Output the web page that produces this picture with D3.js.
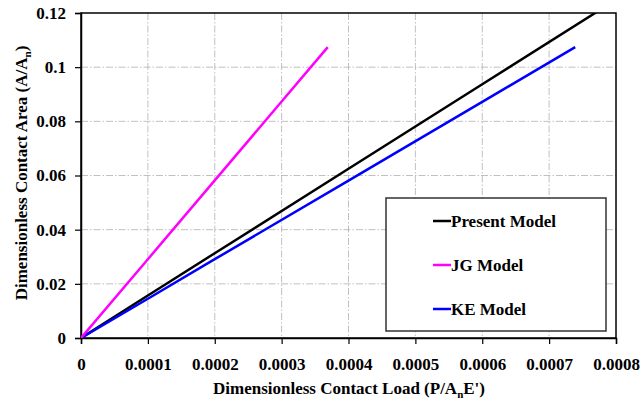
<!DOCTYPE html>
<html><head><meta charset="utf-8">
<script src="https://cdn.jsdelivr.net/npm/d3@7"></script>
<style>body{margin:0;background:#fff}svg{display:block}</style>
</head><body><svg id="c" width="640" height="402"></svg>
<script>
const xTicks=[0,0.0001,0.0002,0.0003,0.0004,0.0005,0.0006,0.0007,0.0008];
const xTickLabels=["0","0.0001","0.0002","0.0003","0.0004","0.0005","0.0006","0.0007","0.0008"];
const yTicks=[0,0.02,0.04,0.06,0.08,0.1,0.12];
const yTickLabels=["0","0.02","0.04","0.06","0.08","0.1","0.12"];
const presentX=[0,0.0001,0.0002,0.0004,0.0006,0.00077];
const presentY=[0,0.0157,0.0313,0.0625,0.0937,0.1202];
const jgX=[0,0.0001,0.0002,0.0003,0.000369];
const jgY=[0,0.0291,0.0582,0.0873,0.1074];
const keX=[0,0.0001,0.0002,0.0004,0.0006,0.000739];
const keY=[0,0.0145,0.0291,0.0581,0.0872,0.1074];
const seriesNames=["Present Model","JG Model","KE Model"];
const seriesColors=["#000000","#ff00ff","#0000ff"];
const xTitle="Dimensionless Contact Load (P/A";
const yTitle="Dimensionless Contact Area (A/A";

const FF='"Liberation Serif"';
const svg=d3.select("#c");
const L=81,R=616,T=13,B=338;
const x=d3.scaleLinear().domain([0,0.0008]).range([L,R]);
const y=d3.scaleLinear().domain([0,0.12]).range([B,T]);
svg.append("defs").append("clipPath").attr("id","cp").append("rect").attr("x",L).attr("y",T).attr("width",R-L).attr("height",B-T);

// grid
const g=svg.append("g");
g.selectAll(".gx").data(xTicks.slice(1,-1)).join("line").attr("x1",d=>x(d)).attr("x2",d=>x(d)).attr("y1",T).attr("y2",B)
 .attr("stroke","#b0b0b0").attr("stroke-width",0.8).attr("stroke-dasharray","7,2,1.5,2");
g.selectAll(".gy").data(yTicks.slice(1,-1)).join("line").attr("y1",d=>y(d)).attr("y2",d=>y(d)).attr("x1",L).attr("x2",R)
 .attr("stroke","#b0b0b0").attr("stroke-width",0.8).attr("stroke-dasharray","7,2,1.5,2");

// frame
svg.append("rect").attr("x",L).attr("y",T).attr("width",R-L).attr("height",B-T).attr("fill","none").attr("stroke","#000").attr("stroke-width",1.5);

// axes
const xa=svg.append("g").attr("transform",`translate(0,${B})`).call(d3.axisBottom(x).tickValues(xTicks).tickFormat((d,i)=>xTickLabels[i]).tickSize(6).tickPadding(14));
const ya=svg.append("g").attr("transform",`translate(${L},0)`).call(d3.axisLeft(y).tickValues(yTicks).tickFormat((d,i)=>yTickLabels[i]).tickSize(6).tickPadding(9));
[xa,ya].forEach(a=>{a.attr("font-family",null);
 a.select(".domain").attr("stroke","#000").attr("stroke-width",1.5);
 a.selectAll(".tick line").attr("stroke","#000").attr("stroke-width",1.2);
 a.selectAll("text").attr("fill","#000").style("font-family",FF).style("font-weight","bold").style("font-size","17px");});

// lines
const line=d3.line().x(d=>x(d[0])).y(d=>y(d[1]));
const data=[d3.zip(presentX,presentY),d3.zip(jgX,jgY),d3.zip(keX,keY)];
const lg=svg.append("g").attr("clip-path","url(#cp)");
[0,2,1].forEach(i=>{
 lg.append("path").datum(data[i]).attr("d",line).attr("fill","none").attr("stroke",seriesColors[i]).attr("stroke-width",2.5);
});

// legend
const leg=svg.append("g");
leg.append("rect").attr("x",386).attr("y",198).attr("width",220).attr("height",133).attr("fill","#fff").attr("stroke","#333").attr("stroke-width",1.5);
const ly=[221,265,309];
seriesNames.forEach((n,i)=>{
 leg.append("line").attr("x1",433).attr("x2",451).attr("y1",ly[i]).attr("y2",ly[i]).attr("stroke",seriesColors[i]).attr("stroke-width",2.5);
 leg.append("text").attr("x",451).attr("y",ly[i]).attr("dy","0.35em").style("font-family",FF).style("font-weight","bold").style("font-size","17px").text(n);
});

// titles
const xt=svg.append("text").attr("x",349).attr("y",394).attr("text-anchor","middle").style("font-family",FF).style("font-weight","bold").style("font-size","17px");
xt.append("tspan").text(xTitle);
xt.append("tspan").style("font-size","11px").attr("dy",4).text("n");
xt.append("tspan").attr("dy",-4).text("E')");
const yt=svg.append("text").attr("transform","translate(27,173) rotate(-90)").attr("text-anchor","middle").style("font-family",FF).style("font-weight","bold").style("font-size","17px");
yt.append("tspan").text(yTitle);
yt.append("tspan").style("font-size","11px").attr("dy",4).text("n");
yt.append("tspan").attr("dy",-4).text(")");
</script></body></html>
